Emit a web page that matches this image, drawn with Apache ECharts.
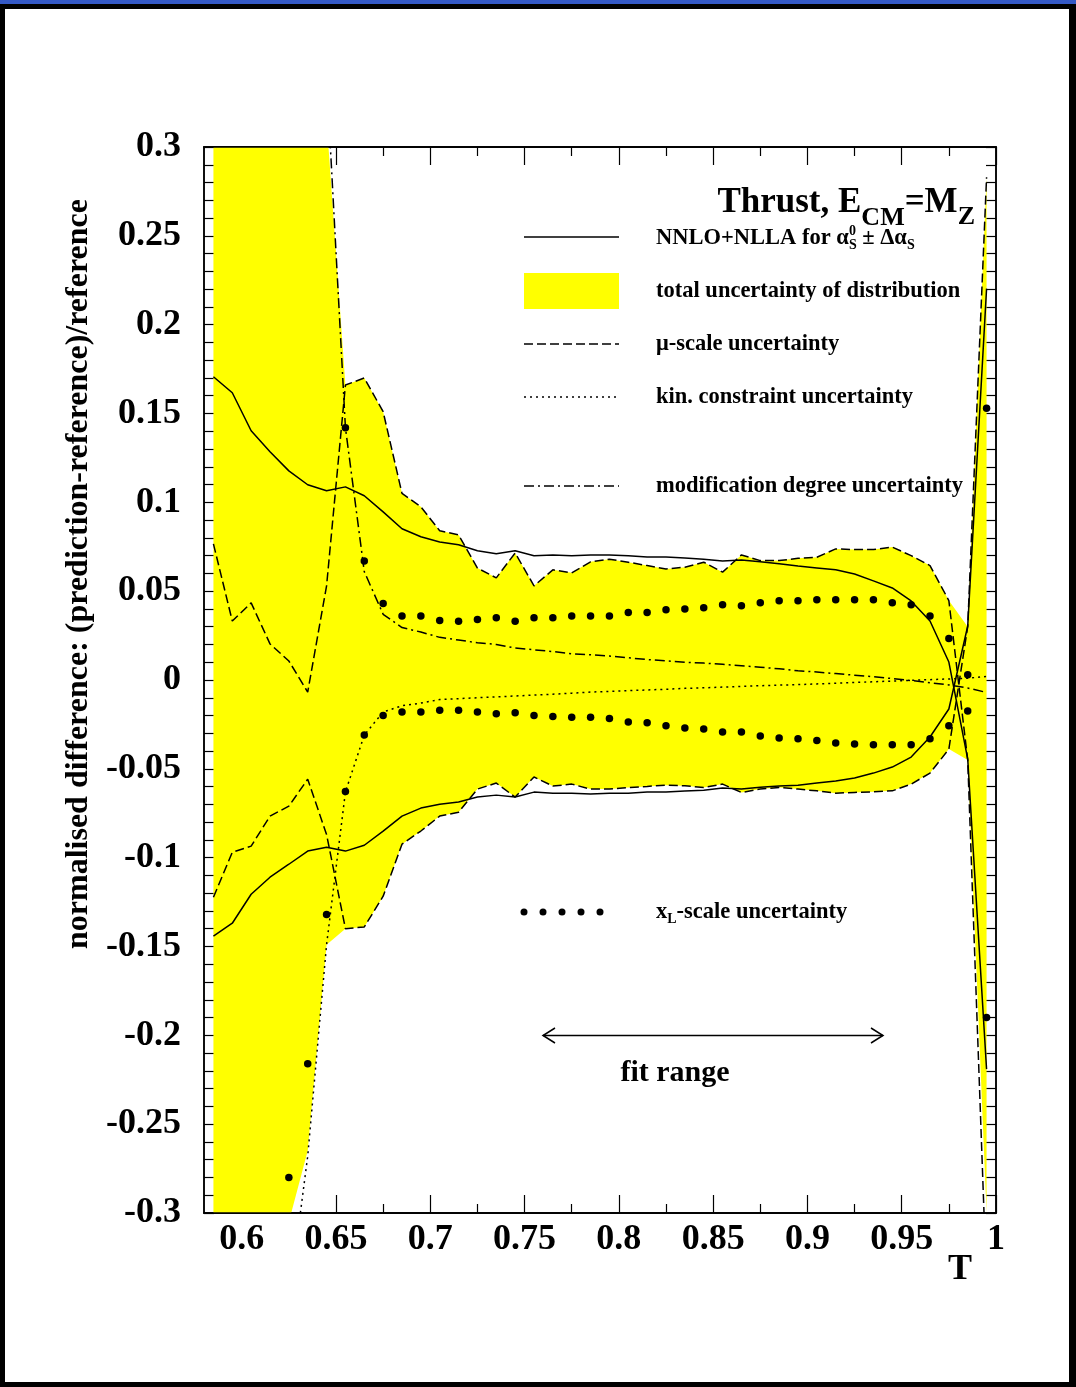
<!DOCTYPE html>
<html>
<head>
<meta charset="UTF-8">
<title>Thrust, normalised difference</title>
<script src="https://cdn.jsdelivr.net/npm/echarts@6.0.0/dist/echarts.min.js"></script>
<style>
  html, body { margin: 0; padding: 0; background: #fff; }
  #main { width: 1076px; height: 1387px; }
</style>
</head>
<body>
<div id="main"></div>
<script>
// bin centres in T
const T = [0.585, 0.595, 0.605, 0.615, 0.625, 0.635, 0.645, 0.655, 0.665, 0.675,
           0.685, 0.695, 0.705, 0.715, 0.725, 0.735, 0.745, 0.755, 0.765, 0.775,
           0.785, 0.795, 0.805, 0.815, 0.825, 0.835, 0.845, 0.855, 0.865, 0.875,
           0.885, 0.895, 0.905, 0.915, 0.925, 0.935, 0.945, 0.955, 0.965, 0.975,
           0.985, 0.995];

// NNLO+NLLA for alpha_s^0 +/- delta alpha_s (solid)
const alphaUp = [0.1707, 0.1617, 0.1403, 0.1285, 0.1177, 0.1099, 0.1065, 0.1087, 0.1037, 0.0946,
                 0.0851, 0.0806, 0.0777, 0.0761, 0.0727, 0.0710, 0.0727, 0.0699, 0.0704, 0.0699,
                 0.0704, 0.0704, 0.0699, 0.0693, 0.0693, 0.0687, 0.0680, 0.0670, 0.0676, 0.0665,
                 0.0654, 0.0642, 0.0631, 0.0620, 0.0597, 0.0558, 0.0518, 0.0445, 0.0332, 0.0101,
                 -0.0445, -0.219];
const alphaLo = [-0.1442, -0.1369, -0.1206, -0.1110, -0.1037, -0.0963, -0.0941, -0.0963, -0.0930, -0.0851,
                 -0.0766, -0.0721, -0.0699, -0.0687, -0.0659, -0.0648, -0.0659, -0.0631, -0.0637, -0.0637,
                 -0.0642, -0.0637, -0.0637, -0.0631, -0.0631, -0.0625, -0.0620, -0.0608, -0.0614, -0.0603,
                 -0.0597, -0.0592, -0.0580, -0.0569, -0.0552, -0.0524, -0.0490, -0.0434, -0.0321, -0.0163,
                 0.0304, 0.2203];

// total uncertainty band (yellow)
const bandUp = [0.62, 0.58, 0.55, 0.50, 0.46, 0.40, 0.315, 0.166, 0.170, 0.151,
                0.105, 0.0975, 0.084, 0.0817, 0.063, 0.0575, 0.0715, 0.053, 0.062, 0.0603,
                0.0665, 0.068, 0.0663, 0.0644, 0.0625, 0.0635, 0.0663, 0.0607, 0.0704, 0.0672,
                0.0672, 0.0685, 0.0691, 0.0738, 0.0734, 0.0734, 0.0748, 0.070, 0.0644, 0.0447,
                0.03, 0.283];
const bandLo = [-0.50, -0.47, -0.43, -0.38, -0.305, -0.265, -0.149, -0.140, -0.139, -0.1217,
                -0.0924, -0.085, -0.0766, -0.0744, -0.0614, -0.058, -0.0659, -0.0546, -0.0597, -0.0586,
                -0.0614, -0.0614, -0.0605, -0.0599, -0.0592, -0.0595, -0.0605, -0.0586, -0.0633, -0.0614,
                -0.0605, -0.0614, -0.0624, -0.0637, -0.0633, -0.0629, -0.0624, -0.0586, -0.0524, -0.0389,
                -0.045, -0.30];

// mu-scale uncertainty (dashed)
const muUp = [0.0766, 0.0332, 0.0434, 0.0203, 0.0107, -0.0068, 0.053, 0.166, 0.170, 0.151,
              0.105, 0.0975, 0.084, 0.0817, 0.063, 0.0575, 0.0715, 0.053, 0.062, 0.0603,
              0.0665, 0.068, 0.0663, 0.0644, 0.0625, 0.0635, 0.0663, 0.0607, 0.0704, 0.0672,
              0.0672, 0.0685, 0.0691, 0.0738, 0.0734, 0.0734, 0.0748, 0.070, 0.0644, 0.0447,
              -0.045, -0.34];
const muLo = [-0.1223, -0.097, -0.0935, -0.0766, -0.071, -0.0558, -0.087, -0.140, -0.139, -0.1217,
              -0.0924, -0.085, -0.0766, -0.0744, -0.0614, -0.058, -0.0659, -0.0546, -0.0597, -0.0586,
              -0.0614, -0.0614, -0.0605, -0.0599, -0.0592, -0.0595, -0.0605, -0.0586, -0.0633, -0.0614,
              -0.0605, -0.0614, -0.0624, -0.0637, -0.0633, -0.0629, -0.0624, -0.0586, -0.0524, -0.0389,
              0.03, 0.283];

// kin. constraint uncertainty (dotted)
const kinCon = [-0.62, -0.57, -0.52, -0.46, -0.35, -0.268, -0.149, -0.063, -0.031, -0.018,
                -0.0145, -0.013, -0.011, -0.0105, -0.010, -0.0095, -0.009, -0.0085, -0.008, -0.0074,
                -0.0068, -0.0064, -0.006, -0.0056, -0.0052, -0.0047, -0.0044, -0.004, -0.0036, -0.0032,
                -0.0029, -0.0026, -0.0022, -0.0018, -0.0014, -0.001, -0.0006, -0.0002, 0.0002, 0.0006,
                0.001, 0.002];

// modification degree uncertainty (dash-dot)
const modDeg = [0.75, 0.70, 0.64, 0.58, 0.50, 0.42, 0.34, 0.142, 0.061, 0.037,
                0.0295, 0.027, 0.024, 0.0225, 0.021, 0.020, 0.018, 0.017, 0.016, 0.0148,
                0.0142, 0.0135, 0.0125, 0.0115, 0.0108, 0.010, 0.0095, 0.0088, 0.008, 0.0072,
                0.0063, 0.0052, 0.0045, 0.0036, 0.0027, 0.0018, 0.0008, -0.0003, -0.0015, -0.0028,
                -0.0045, -0.007];

// x_L-scale uncertainty (dots), null = off the plot
const xlUp = [null, null, null, null, null, null, null, 0.142, 0.067, 0.043,
              0.036, 0.036, 0.0335, 0.033, 0.034, 0.035, 0.033, 0.035, 0.035, 0.036,
              0.036, 0.036, 0.038, 0.038, 0.0396, 0.040, 0.0407, 0.0424, 0.0418, 0.0435,
              0.0446, 0.0446, 0.0452, 0.0452, 0.0452, 0.0452, 0.0435, 0.0424, 0.036, 0.0233,
              0.003, 0.153];
const xlLo = [null, null, null, null, -0.28, -0.216, -0.132, -0.0627, -0.031, -0.020,
              -0.018, -0.018, -0.017, -0.017, -0.018, -0.019, -0.0185, -0.020, -0.0205, -0.021,
              -0.021, -0.0217, -0.0236, -0.024, -0.0258, -0.027, -0.0276, -0.0293, -0.0293, -0.0315,
              -0.0326, -0.033, -0.034, -0.0354, -0.036, -0.0365, -0.0365, -0.0365, -0.033, -0.0258,
              -0.0174, -0.19];

// axis ticks and labels
const xLabels = [0.6, 0.65, 0.7, 0.75, 0.8, 0.85, 0.9, 0.95, 1];
const xMinor = [0.625, 0.675, 0.725, 0.775, 0.825, 0.875, 0.925, 0.975];
const yLabels = [-0.3, -0.25, -0.2, -0.15, -0.1, -0.05, 0, 0.05, 0.1, 0.15, 0.2, 0.25, 0.3];
const yTicks = [];
for (let i = -30; i <= 30; i++) yTicks.push(i / 100);

const FONT = '"Liberation Serif", "Times New Roman", serif';
const GRID = { left: 204, top: 147, width: 792, height: 1066 };

const pairs = arr => T.map((t, i) => [t, arr[i]]);
const dots = arr => T.map((t, i) => [t, arr[i]]).filter(p => p[1] !== null);

const axLine = { show: true, onZero: false, lineStyle: { color: '#000', width: 1.5 } };
function xAx(pos, ticks, len, labels) {
    return {
        type: 'value', position: pos, min: 0.58, max: 1.0,
        axisLine: axLine,
        splitLine: { show: false },
        axisTick: { show: true, inside: true, length: len, customValues: ticks,
                    lineStyle: { color: '#000', width: 1.2 } },
        axisLabel: labels ? {
            show: true, customValues: labels, formatter: v => String(v), margin: 9,
            fontFamily: FONT, fontWeight: 'bold', fontSize: 36, color: '#000'
        } : { show: false }
    };
}
function yAx(pos, labels) {
    return {
        type: 'value', position: pos, min: -0.3, max: 0.3,
        axisLine: axLine,
        splitLine: { show: false },
        axisTick: { show: true, inside: true, length: 10, customValues: yTicks,
                    lineStyle: { color: '#000', width: 1.2 } },
        axisLabel: labels ? {
            show: true, customValues: labels, formatter: v => String(v), margin: 23,
            padding: [7, 0, 0, 0],
            fontFamily: FONT, fontWeight: 'bold', fontSize: 36, color: '#000'
        } : { show: false }
    };
}

// text helpers for the legend / titles
const meas = document.createElement('canvas').getContext('2d');
function textW(s, size) {
    meas.font = 'bold ' + size + 'px ' + FONT;
    return meas.measureText(s).width;
}
function txt(x, base, s, size, align) {
    align = align || 'left';
    return {
        type: 'text', z: 60, x: x, y: base - 0.305 * size,
        style: { text: s, font: 'bold ' + size + 'px ' + FONT, fill: '#000',
                 align: align, verticalAlign: 'middle',
                 textAlign: align, textVerticalAlign: 'middle' }
    };
}
// runs of text left to right: {t, s, dy, stay}
function runs(x0, base, list, rightAnchor) {
    const w = list.reduce((a, r) => a + (r.stay ? 0 : textW(r.t, r.s)), 0);
    let x = rightAnchor ? x0 - w : x0;
    const els = [];
    list.forEach(r => {
        els.push(txt(x, base + (r.dy || 0), r.t, r.s));
        if (!r.stay) x += textW(r.t, r.s);
    });
    return els;
}
function legLine(y, dash) {
    return { type: 'line', z: 60, shape: { x1: 524, y1: y, x2: 619, y2: y },
             style: { stroke: '#000', lineWidth: 1.5, lineDash: dash || null } };
}

const LS = 22.5;
const graphics = [].concat(
    [
        // page frame
        { type: 'rect', z: 1, shape: { x: 0, y: 0, width: 1076, height: 4 }, style: { fill: '#3459c6' } },
        { type: 'rect', z: 1, shape: { x: 0, y: 4, width: 1076, height: 5 }, style: { fill: '#000' } },
        { type: 'rect', z: 1, shape: { x: 0, y: 4, width: 5, height: 1383 }, style: { fill: '#000' } },
        { type: 'rect', z: 1, shape: { x: 1069, y: 4, width: 7, height: 1383 }, style: { fill: '#000' } },
        { type: 'rect', z: 1, shape: { x: 0, y: 1382, width: 1076, height: 5 }, style: { fill: '#000' } },
        // plot frame on top of the band
        { type: 'rect', z: 55, shape: { x: GRID.left, y: GRID.top, width: GRID.width, height: GRID.height },
          style: { fill: null, stroke: '#000', lineWidth: 1.5 } },
        // legend samples
        legLine(237),
        { type: 'rect', z: 60, shape: { x: 524, y: 273, width: 95, height: 36 }, style: { fill: '#ffff00' } },
        legLine(344, [9, 4]),
        legLine(397, [2, 4]),
        legLine(486, [10, 4, 2, 4]),
        // fit range arrow
        { type: 'polyline', z: 60, shape: { points: [[555, 1028], [543, 1035.5], [555, 1043]] },
          style: { stroke: '#000', lineWidth: 1.5, fill: null } },
        { type: 'line', z: 60, shape: { x1: 543, y1: 1035.5, x2: 883, y2: 1035.5 },
          style: { stroke: '#000', lineWidth: 1.5 } },
        { type: 'polyline', z: 60, shape: { points: [[871, 1028], [883, 1035.5], [871, 1043]] },
          style: { stroke: '#000', lineWidth: 1.5, fill: null } }
    ],
    [524, 543, 562, 581, 600].map(x => ({ type: 'circle', z: 60, shape: { cx: x, cy: 912, r: 3.5 }, style: { fill: '#000' } })),
    runs(975, 214, [
        { t: 'Thrust, E', s: 35 }, { t: 'CM', s: 26, dy: 12 },
        { t: '=M', s: 35 }, { t: 'Z', s: 26, dy: 11 }
    ], true),
    runs(656, 245, [
        { t: 'NNLO+NLLA for ', s: LS }, { t: 'α', s: LS },
        { t: '0', s: 14, dy: -9, stay: true }, { t: 'S', s: 14, dy: 5 },
        { t: ' ± Δα', s: LS }, { t: 'S', s: 14, dy: 5 }
    ]),
    runs(656, 298, [{ t: 'total uncertainty of distribution', s: LS }]),
    runs(656, 351, [{ t: 'μ-scale uncertainty', s: LS }]),
    runs(656, 404, [{ t: 'kin. constraint uncertainty', s: LS }]),
    runs(656, 493, [{ t: 'modification degree uncertainty', s: LS }]),
    runs(656, 919, [{ t: 'x', s: LS }, { t: 'L', s: 14, dy: 5 }, { t: '-scale uncertainty', s: LS }]),
    [
        txt(675, 1082, 'fit range', 30, 'center'),
        txt(960, 1281, 'T', 36, 'center'),
        {
            type: 'text', z: 60, x: 79, y: 574, rotation: Math.PI / 2,
            style: { text: 'normalised difference: (prediction-reference)/reference',
                     font: 'bold 32px ' + FONT, fill: '#000',
                     align: 'center', verticalAlign: 'middle',
                     textAlign: 'center', textVerticalAlign: 'middle' }
        }
    ]
);

function lineSeries(name, arr, type) {
    return {
        name: name, type: 'line', data: pairs(arr), symbol: 'none', z: 5,
        lineStyle: { color: '#000', width: 1.5, type: type || 'solid' }
    };
}

const option = {
    animation: false,
    backgroundColor: '#fff',
    grid: GRID,
    xAxis: [
        xAx('bottom', xLabels, 18, xLabels),
        xAx('bottom', xMinor, 9, null),
        xAx('top', xLabels, 18, null),
        xAx('top', xMinor, 9, null)
    ],
    yAxis: [yAx('left', yLabels), yAx('right', null)],
    graphic: graphics,
    series: [
        {
            // yellow band: one polygon, upper edge then lower edge back
            name: 'total uncertainty of distribution', type: 'custom', clip: true, z: 2,
            data: [[T[0], bandUp[0]]],
            renderItem: function (params, api) {
                const up = T.map((t, i) => api.coord([t, bandUp[i]]));
                const lo = T.map((t, i) => api.coord([t, bandLo[i]])).reverse();
                return { type: 'polygon', shape: { points: up.concat(lo) },
                         style: { fill: '#ffff00', stroke: null } };
            }
        },
        lineSeries('NNLO+NLLA up', alphaUp),
        lineSeries('NNLO+NLLA down', alphaLo),
        lineSeries('mu-scale up', muUp, [9, 4]),
        lineSeries('mu-scale down', muLo, [9, 4]),
        lineSeries('kin. constraint', kinCon, [2, 4]),
        lineSeries('modification degree', modDeg, [10, 4, 2, 4]),
        {
            name: 'xL-scale', type: 'scatter', symbol: 'circle', symbolSize: 7.5, z: 6,
            data: dots(xlUp).concat(dots(xlLo)),
            itemStyle: { color: '#000', opacity: 1 }
        }
    ]
};

const myChart = echarts.init(document.getElementById('main'));
myChart.setOption(option);
</script>
</body>
</html>
